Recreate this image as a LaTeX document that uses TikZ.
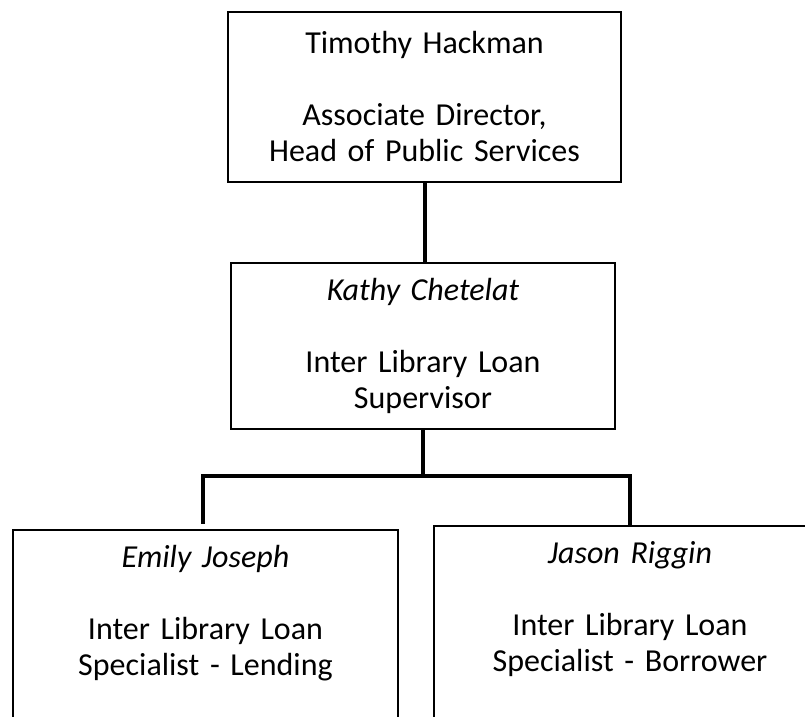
\documentclass[tikz,border=0pt]{standalone}
\usepackage{fontspec}
\setmainfont{Carlito}

\begin{document}
\begin{tikzpicture}[
    x=0.75pt, y=-0.75pt,            % 元画像のピクセル座標（y は下向き）
    box/.style={draw, line width=1.2pt, align=center, inner xsep=0pt,
        font=\fontsize{24}{27}\selectfont},
    link/.style={line width=3pt}    % 接続線は太め
]

    % --- 0. 描画範囲（下段の箱は下端で切れる） ---
    \useasboundingbox (0,0) rectangle (805,716);
    \clip (0,0) rectangle (805,716);

    % --- 1. 上段・中段の箱 ---
    \node [box, text width=294.75pt, minimum height=127.5pt] (head) at (424.5,97)
        {Timothy Hackman\\[27pt]Associate Director,\\Head of Public Services};
    \node [box, text width=288pt, minimum height=124.5pt] (super) at (423,346)
        {\textit{Kathy Chetelat}\\[27pt]Inter Library Loan\\Supervisor};

    % --- 2. 下段の箱（text depth で下に伸ばす） ---
    \node [box, text width=288.75pt, text height=17pt, text depth=150pt,
        inner ysep=11.5pt, anchor=north] (lending) at (205.5,529)
        {\textit{Emily Joseph}\\[27pt]Inter Library Loan\\Specialist - Lending};
    \node [box, text width=294pt, text height=17pt, text depth=150pt,
        inner ysep=11.5pt, anchor=north] (borrow) at (630,525)
        {\textit{Jason Riggin}\\[27pt]Inter Library Loan\\Specialist - Borrower};

    % --- 3. 接続線 ---
    \coordinate (forkL) at (203,476);
    \coordinate (forkR) at (630,476);
    \draw [link] (head.south) -- (head.south |- super.north);
    \draw [link] (super.south) -- (super.south |- forkL);
    \draw [link, line cap=rect] (forkL) -- (forkR);
    \draw [link, shorten >=3.5pt] (forkL) -- (forkL |- lending.north);
    \draw [link] (forkR) -- (forkR |- borrow.north);

\end{tikzpicture}
\end{document}
